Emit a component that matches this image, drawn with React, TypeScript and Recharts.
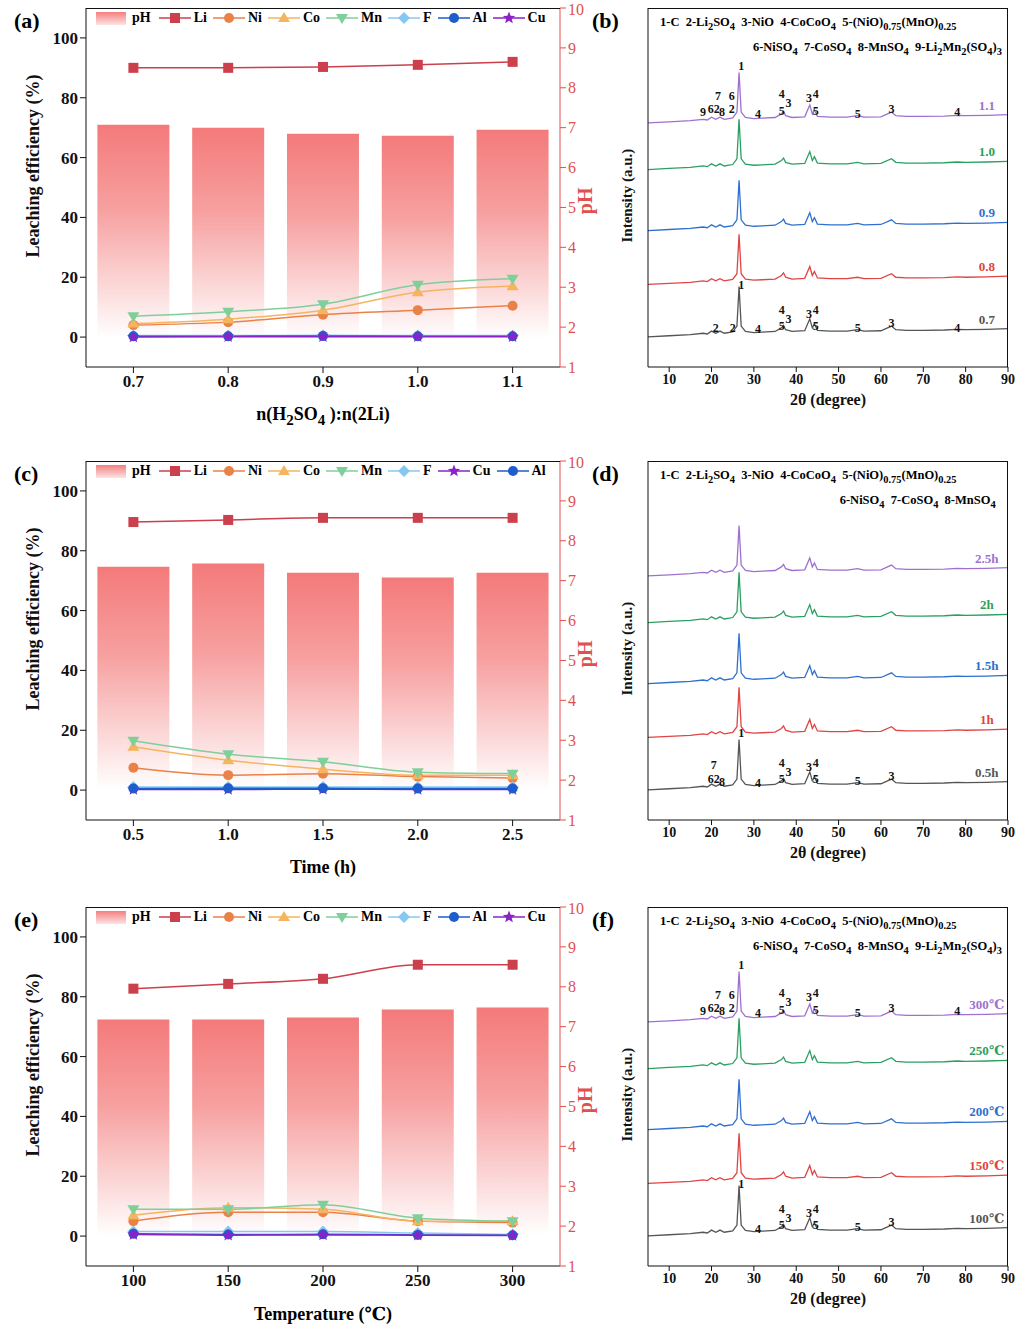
import { Bar, ComposedChart, Line, LineChart, XAxis, YAxis, ReferenceDot } from "recharts";

const FONT = "'Liberation Serif', 'DejaVu Serif', serif";

// ---------- leaching panels ----------
const ratioCats = ["0.7", "0.8", "0.9", "1.0", "1.1"];
const ratioPH = [7.07, 7.0, 6.85, 6.8, 6.95];
const ratioLi = [90, 90, 90.3, 91, 92];
const ratioNi = [4, 5, 7.5, 9, 10.5];
const ratioCo = [4.5, 6, 9, 15, 17];
const ratioMn = [7, 8.5, 11, 17.5, 19.5];
const ratioF = [0.5, 0.5, 0.6, 0.5, 0.5];
const ratioAl = [0.3, 0.3, 0.4, 0.3, 0.3];
const ratioCu = [0, 0.1, 0.1, 0.1, 0.1];

const timeCats = ["0.5", "1.0", "1.5", "2.0", "2.5"];
const timePH = [7.35, 7.43, 7.2, 7.08, 7.2];
const timeLi = [89.6, 90.3, 91, 91, 91];
const timeNi = [7.5, 5, 5.5, 4.5, 4];
const timeCo = [14.5, 10, 7, 5, 5];
const timeMn = [16.5, 12, 9.5, 6, 5.5];
const timeF = [1, 1, 1, 1, 1];
const timeAl = [0.5, 0.6, 0.6, 0.5, 0.5];
const timeCu = [0.2, 0.2, 0.3, 0.2, 0.2];

const tempCats = ["100", "150", "200", "250", "300"];
const tempPH = [7.18, 7.18, 7.23, 7.43, 7.48];
const tempLi = [82.7, 84.3, 86, 90.7, 90.7];
const tempNi = [5, 8, 8, 5, 4.5];
const tempCo = [7, 9.5, 9, 5, 5];
const tempMn = [9, 9, 10.5, 6, 5];
const tempF = [1.5, 1.5, 1.5, 1, 0.5];
const tempAl = [0.8, 0.5, 0.6, 0.4, 0.3];
const tempCu = [0.5, 0.3, 0.4, 0.3, 0.2];

const leftTicks = [0, 20, 40, 60, 80, 100];
const phTicks = [1, 2, 3, 4, 5, 6, 7, 8, 9, 10];

const metalStyle: Record<string, { color: string; shape: string }> = {
  Li: { color: "#cc3f4c", shape: "square" },
  Ni: { color: "#ea8147", shape: "circle" },
  Co: { color: "#f4b55e", shape: "up" },
  Mn: { color: "#7fcf9b", shape: "down" },
  F: { color: "#86c8f2", shape: "diamond" },
  Al: { color: "#1f5ccc", shape: "circle" },
  Cu: { color: "#8a22c8", shape: "star" },
};

function Mark({ cx, cy, shape, color }: any) {
  if (cx == null || cy == null) return null;
  const s = 5;
  if (shape === "square") return <rect x={cx - s} y={cy - s} width={2 * s} height={2 * s} fill={color} />;
  if (shape === "circle") return <circle cx={cx} cy={cy} r={s} fill={color} />;
  if (shape === "up") return <polygon points={`${cx},${cy - 6} ${cx - 6},${cy + 4} ${cx + 6},${cy + 4}`} fill={color} />;
  if (shape === "down") return <polygon points={`${cx},${cy + 6} ${cx - 6},${cy - 4} ${cx + 6},${cy - 4}`} fill={color} />;
  if (shape === "diamond") return <polygon points={`${cx},${cy - 6} ${cx + 6},${cy} ${cx},${cy + 6} ${cx - 6},${cy}`} fill={color} />;
  const pts: string[] = [];
  for (let i = 0; i < 10; i++) {
    const r = i % 2 === 0 ? 6.5 : 2.8;
    const a = (Math.PI / 5) * i - Math.PI / 2;
    pts.push(`${cx + r * Math.cos(a)},${cy + r * Math.sin(a)}`);
  }
  return <polygon points={pts.join(" ")} fill={color} />;
}

function Legend({ order }: { order: string[] }) {
  return (
    <div style={{ position: "absolute", left: 96, top: 10, display: "flex", alignItems: "center", gap: 6, fontFamily: FONT, fontWeight: 700, fontSize: 14 }}>
      <div style={{ width: 30, height: 13, background: "linear-gradient(#f47f7f,#fde3e3)" }} />
      <span style={{ marginRight: 2 }}>pH</span>
      {order.map((m) => (
        <span key={m} style={{ display: "flex", alignItems: "center", gap: 3 }}>
          <svg width={32} height={14}>
            <line x1={0} y1={7} x2={32} y2={7} stroke={metalStyle[m].color} strokeWidth={1.5} />
            <Mark cx={16} cy={7} shape={metalStyle[m].shape} color={metalStyle[m].color} />
          </svg>
          <span>{m}</span>
        </span>
      ))}
    </div>
  );
}

function LeachPanel({ top, tag, cats, ph, series, order, xLabel }: any) {
  const data = cats.map((c: string, i: number) => {
    const row: any = { cat: c, ph: ph[i] };
    Object.keys(series).forEach((k) => (row[k] = series[k][i]));
    return row;
  });
  const gid = "grad" + tag;
  return (
    <div style={{ position: "absolute", left: 0, top, width: 600, height: 450 }}>
      <ComposedChart width={600} height={440} data={data} margin={{ top: 8, right: 0, left: 0, bottom: 0 }} barCategoryGap="12%">
        <defs>
          <linearGradient id={gid} x1="0" y1="0" x2="0" y2="1">
            <stop offset="0%" stopColor="#f47a7a" />
            <stop offset="35%" stopColor="#f7a0a0" />
            <stop offset="70%" stopColor="#fcdede" />
            <stop offset="88%" stopColor="#ffffff" />
          </linearGradient>
        </defs>
        <XAxis dataKey="cat" height={73} tick={{ fontFamily: FONT, fontWeight: 700, fontSize: 17, fill: "#111" }} stroke="#111" tickSize={6} />
        <YAxis yAxisId="l" domain={[-10, 110]} ticks={leftTicks} width={86} stroke="#111"
          tick={{ fontFamily: FONT, fontWeight: 700, fontSize: 17, fill: "#111" }}
          label={{ value: "Leaching efficiency (%)", angle: -90, position: "insideLeft", dx: 28, dy: 70, style: { fontFamily: FONT, fontWeight: 700, fontSize: 18, fill: "#111" } }} />
        <YAxis yAxisId="r" orientation="right" domain={[1, 10]} ticks={phTicks} width={40} stroke="#e05050"
          tick={{ fontFamily: FONT, fontSize: 16, fill: "#e05050" }}
          label={{ value: "pH", angle: -90, position: "insideRight", dx: -10, style: { fontFamily: FONT, fontWeight: 700, fontSize: 20, fill: "#e05050" } }} />
        <Bar yAxisId="r" dataKey="ph" fill={`url(#${gid})`} isAnimationActive={false} />
        {order.map((m: string) => (
          <Line key={m} yAxisId="l" dataKey={m} stroke={metalStyle[m].color} strokeWidth={1.5} type="monotone" isAnimationActive={false}
            dot={(p: any) => <Mark key={m + p.index} cx={p.cx} cy={p.cy} shape={metalStyle[m].shape} color={metalStyle[m].color} />} />
        ))}
      </ComposedChart>
      <div style={{ position: "absolute", left: 86, top: 8, width: 474, height: 0, borderTop: "1px solid #111" }} />
      <div style={{ position: "absolute", left: 14, top: 8, fontFamily: FONT, fontWeight: 700, fontSize: 22 }}>({tag})</div>
      <Legend order={order} />
      <div style={{ position: "absolute", left: 86, width: 474, top: 404, textAlign: "center", fontFamily: FONT, fontWeight: 700, fontSize: 18 }}>{xLabel}</div>
    </div>
  );
}

// ---------- XRD panels ----------
const xrdTheta = [5, 10, 15, 18, 19, 20, 21, 22, 23, 25, 26, 26.5, 27, 28, 30, 32, 35, 36.5, 37, 37.5, 39, 42, 43.2, 43.8, 44.3, 45, 48, 52, 54.5, 56, 60, 62.5, 63.5, 66, 70, 75, 78, 80, 85, 90];
const xrdProfile = [0, 0.3, 0.6, 1, 0.8, 1.6, 1, 1.6, 1, 1.4, 3, 14, 3, 1.5, 1.2, 1.3, 1.5, 2.5, 3.2, 2, 1.5, 1.7, 5, 2.5, 3.6, 1.8, 1.6, 1.6, 2, 1.6, 1.7, 3, 2, 1.8, 1.8, 1.9, 2.1, 2, 2.1, 2.3];
const xrdOffsets = [8.4, 23, 38, 55, 68];
const xrdColors = ["#555555", "#e04444", "#2f6fd0", "#2aa060", "#a070d0"];

const ratioXrdNames = ["0.7", "0.8", "0.9", "1.0", "1.1"];
const timeXrdNames = ["0.5h", "1h", "1.5h", "2h", "2.5h"];
const tempXrdNames = ["100℃", "150℃", "200℃", "250℃", "300℃"];

const bTopPeaks = [
  { x: 18, y: 3, t: "9" }, { x: 20.5, y: 4, t: "62" }, { x: 21.5, y: 7.5, t: "7" }, { x: 22.5, y: 3, t: "8" },
  { x: 24.8, y: 7.5, t: "6" }, { x: 24.8, y: 4, t: "2" }, { x: 27, y: 16, t: "1" }, { x: 31, y: 2.5, t: "4" },
  { x: 36.6, y: 8, t: "4" }, { x: 36.6, y: 3.5, t: "5" }, { x: 38.2, y: 5.5, t: "3" }, { x: 43, y: 7, t: "3" },
  { x: 44.6, y: 8, t: "4" }, { x: 44.6, y: 3.5, t: "5" }, { x: 54.5, y: 2.5, t: "5" }, { x: 62.5, y: 4, t: "3" }, { x: 78, y: 3, t: "4" },
];
const bBottomPeaks = [
  { x: 21, y: 2.5, t: "2" }, { x: 25, y: 2.5, t: "2" }, { x: 27, y: 14.5, t: "1" }, { x: 31, y: 2.2, t: "4" },
  { x: 36.6, y: 7.5, t: "4" }, { x: 36.6, y: 3.2, t: "5" }, { x: 38.2, y: 5, t: "3" }, { x: 43, y: 6.5, t: "3" },
  { x: 44.6, y: 7.5, t: "4" }, { x: 44.6, y: 3.2, t: "5" }, { x: 54.5, y: 2.5, t: "5" }, { x: 62.5, y: 4, t: "3" }, { x: 78, y: 2.5, t: "4" },
];
const dBottomPeaks = [
  { x: 20.5, y: 7, t: "7" }, { x: 20.5, y: 3, t: "62" }, { x: 22.5, y: 2.2, t: "8" }, { x: 27, y: 16, t: "1" },
  { x: 31, y: 2, t: "4" }, { x: 36.6, y: 7.5, t: "4" }, { x: 36.6, y: 3.2, t: "5" }, { x: 38.2, y: 5, t: "3" },
  { x: 43, y: 6.5, t: "3" }, { x: 44.6, y: 7.5, t: "4" }, { x: 44.6, y: 3.2, t: "5" }, { x: 54.5, y: 2.5, t: "5" }, { x: 62.5, y: 4, t: "3" },
];
const fBottomPeaks = [
  { x: 27, y: 14.5, t: "1" }, { x: 31, y: 2, t: "4" }, { x: 36.6, y: 7.5, t: "4" }, { x: 36.6, y: 3.2, t: "5" },
  { x: 38.2, y: 5, t: "3" }, { x: 43, y: 6.5, t: "3" }, { x: 44.6, y: 7.5, t: "4" }, { x: 44.6, y: 3.2, t: "5" },
  { x: 54.5, y: 2.5, t: "5" }, { x: 62.5, y: 4, t: "3" },
];

function XrdPanel({ top, tag, names, topPeaks, bottomPeaks, legend }: any) {
  const data = xrdTheta.map((t, i) => {
    const row: any = { t };
    xrdOffsets.forEach((o, k) => (row["p" + k] = o + xrdProfile[i]));
    return row;
  });
  const peakLabel = { fill: "#111", fontFamily: FONT, fontWeight: 700, fontSize: 12 };
  return (
    <div style={{ position: "absolute", left: 600, top, width: 424, height: 450 }}>
      <LineChart width={420} height={440} data={data} margin={{ top: 8, right: 12, left: 0, bottom: 0 }}>
        <XAxis dataKey="t" type="number" domain={[5, 90]} ticks={[10, 20, 30, 40, 50, 60, 70, 80, 90]} height={73} stroke="#111" tickSize={5}
          tick={{ fontFamily: FONT, fontWeight: 700, fontSize: 14, fill: "#111" }}
          label={{ value: "2θ (degree)", position: "insideTop", dy: 22, style: { fontFamily: FONT, fontWeight: 700, fontSize: 16, fill: "#111" } }} />
        <YAxis domain={[0, 100]} tick={false} width={48} stroke="#111"
          label={{ value: "Intensity (a.u.)", angle: -90, position: "insideLeft", dx: 22, dy: 55, style: { fontFamily: FONT, fontWeight: 700, fontSize: 15, fill: "#111" } }} />
        {xrdOffsets.map((o, k) => (
          <Line key={k} dataKey={"p" + k} stroke={xrdColors[k]} strokeWidth={1.3} dot={false} type="linear" isAnimationActive={false} />
        ))}
        {topPeaks.map((p: any, i: number) => (
          <ReferenceDot key={"t" + i} x={p.x} y={xrdOffsets[4] + p.y} r={0} label={{ value: p.t, position: "center", style: peakLabel }} />
        ))}
        {bottomPeaks.map((p: any, i: number) => (
          <ReferenceDot key={"b" + i} x={p.x} y={xrdOffsets[0] + p.y} r={0} label={{ value: p.t, position: "center", style: peakLabel }} />
        ))}
        {names.map((n: string, k: number) => (
          <ReferenceDot key={"n" + k} x={85} y={xrdOffsets[k] + 5} r={0} label={{ value: n, position: "center", style: { fill: xrdColors[k], fontFamily: FONT, fontWeight: 700, fontSize: 13 } }} />
        ))}
      </LineChart>
      <div style={{ position: "absolute", left: 48, top: 8, width: 360, height: 0, borderTop: "1px solid #111" }} />
      <div style={{ position: "absolute", left: 407, top: 8, width: 0, height: 359, borderLeft: "1px solid #111" }} />
      <div style={{ position: "absolute", left: -8, top: 8, fontFamily: FONT, fontWeight: 700, fontSize: 22 }}>({tag})</div>
      <div style={{ position: "absolute", left: 60, top: 12, width: 345, fontFamily: FONT, fontWeight: 700, fontSize: 12.5, textAlign: "right", lineHeight: "20px" }}>
        {legend}
      </div>
    </div>
  );
}

const legendFull = (
  <>
    <div style={{ textAlign: "left" }}>1-C&nbsp; 2-Li<sub>2</sub>SO<sub>4</sub>&nbsp; 3-NiO&nbsp; 4-CoCoO<sub>4</sub>&nbsp; 5-(NiO)<sub>0.75</sub>(MnO)<sub>0.25</sub></div>
    <div>6-NiSO<sub>4</sub>&nbsp; 7-CoSO<sub>4</sub>&nbsp; 8-MnSO<sub>4</sub>&nbsp; 9-Li<sub>2</sub>Mn<sub>2</sub>(SO<sub>4</sub>)<sub>3</sub>&nbsp;</div>
  </>
);
const legendShort = (
  <>
    <div style={{ textAlign: "left" }}>1-C&nbsp; 2-Li<sub>2</sub>SO<sub>4</sub>&nbsp; 3-NiO&nbsp; 4-CoCoO<sub>4</sub>&nbsp; 5-(NiO)<sub>0.75</sub>(MnO)<sub>0.25</sub></div>
    <div>6-NiSO<sub>4</sub>&nbsp; 7-CoSO<sub>4</sub>&nbsp; 8-MnSO<sub>4</sub>&nbsp;&nbsp;&nbsp;</div>
  </>
);

export default function App() {
  return (
    <div style={{ position: "absolute", left: 0, top: 0, width: 1024, height: 1332, background: "#fff" }}>
      <LeachPanel top={0} tag="a" cats={ratioCats} ph={ratioPH}
        series={{ Li: ratioLi, Ni: ratioNi, Co: ratioCo, Mn: ratioMn, F: ratioF, Al: ratioAl, Cu: ratioCu }}
        order={["Li", "Ni", "Co", "Mn", "F", "Al", "Cu"]}
        xLabel={<span>n(H<sub>2</sub>SO<sub>4</sub> ):n(2Li)</span>} />
      <LeachPanel top={453} tag="c" cats={timeCats} ph={timePH}
        series={{ Li: timeLi, Ni: timeNi, Co: timeCo, Mn: timeMn, F: timeF, Cu: timeCu, Al: timeAl }}
        order={["Li", "Ni", "Co", "Mn", "F", "Cu", "Al"]}
        xLabel="Time (h)" />
      <LeachPanel top={899} tag="e" cats={tempCats} ph={tempPH}
        series={{ Li: tempLi, Ni: tempNi, Co: tempCo, Mn: tempMn, F: tempF, Al: tempAl, Cu: tempCu }}
        order={["Li", "Ni", "Co", "Mn", "F", "Al", "Cu"]}
        xLabel="Temperature (℃)" />
      <XrdPanel top={0} tag="b" names={ratioXrdNames} topPeaks={bTopPeaks} bottomPeaks={bBottomPeaks} legend={legendFull} />
      <XrdPanel top={453} tag="d" names={timeXrdNames} topPeaks={[]} bottomPeaks={dBottomPeaks} legend={legendShort} />
      <XrdPanel top={899} tag="f" names={tempXrdNames} topPeaks={bTopPeaks} bottomPeaks={fBottomPeaks} legend={legendFull} />
    </div>
  );
}
